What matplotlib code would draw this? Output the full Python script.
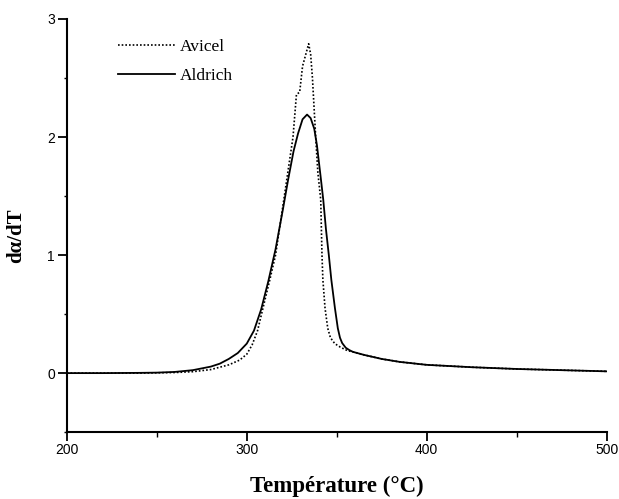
import numpy as np
import matplotlib.pyplot as plt
from matplotlib.ticker import MultipleLocator

# Aldrich cellulose (solid)
temp_aldrich = [200, 220, 240, 250, 260, 270, 280, 285, 290, 295, 300, 304, 308,
                312, 316, 320, 323, 326, 328.5, 331, 333.5, 335.5, 337.5, 339,
                341, 342.5, 344, 345.6, 347, 349, 350.6, 351.8, 353, 355, 357,
                359, 365, 375, 385, 400, 425, 450, 475, 500]
rate_aldrich = [0.0, 0.0, 0.002, 0.004, 0.01, 0.025, 0.055, 0.08, 0.12, 0.17, 0.25,
                0.36, 0.54, 0.78, 1.05, 1.38, 1.64, 1.88, 2.03, 2.15, 2.19, 2.16,
                2.07, 1.93, 1.67, 1.47, 1.22, 1.00, 0.79, 0.55, 0.38, 0.30, 0.255,
                0.215, 0.195, 0.18, 0.155, 0.12, 0.095, 0.07, 0.05, 0.035, 0.025,
                0.015]

# Avicel cellulose (dotted)
temp_avicel = [200, 240, 260, 270, 280, 290, 296, 300, 303, 306, 309, 312.8, 316,
               320.6, 323, 325.7, 327.6, 329.4, 331, 334.4, 335.5, 336.5, 338.3,
               339.5, 341.1, 341.8, 342.3, 343.5, 345, 346.5, 348.9, 352, 356, 359,
               365, 375, 385, 400, 425, 450, 475, 500]
rate_avicel = [0.0, 0.0, 0.005, 0.012, 0.03, 0.07, 0.11, 0.16, 0.24, 0.36, 0.55, 0.79,
               1.0, 1.47, 1.72, 2.0, 2.36, 2.38, 2.6, 2.79, 2.7, 2.5, 2.0, 1.7,
               1.47, 1.0, 0.79, 0.55, 0.38, 0.3, 0.25, 0.22, 0.19, 0.18, 0.155,
               0.12, 0.095, 0.07, 0.05, 0.035, 0.025, 0.015]

fig = plt.figure(figsize=(6.19, 4.99), dpi=100)
ax = fig.add_axes([0.108, 0.134, 0.872, 0.828])

ax.plot(temp_avicel, rate_avicel, color='black', linestyle=(0, (1, 1.2)),
        linewidth=1.2, label='Avicel')
ax.plot(temp_aldrich, rate_aldrich, color='black', linestyle='-',
        linewidth=1.3, label='Aldrich')

ax.set_xlim(200, 500)
ax.set_ylim(-0.5, 3)
ax.xaxis.set_major_locator(MultipleLocator(100))
ax.xaxis.set_minor_locator(MultipleLocator(50))
ax.yaxis.set_major_locator(MultipleLocator(1))
ax.yaxis.set_minor_locator(MultipleLocator(0.5))

ax.spines['top'].set_visible(False)
ax.spines['right'].set_visible(False)
for s in ['left', 'bottom']:
    ax.spines[s].set_linewidth(1.5)

ax.tick_params(which='major', length=6.5, width=1.3, direction='out',
               labelsize=10, pad=2)
ax.tick_params(axis='y', which='minor', length=2.5, width=1.0, direction='out')
ax.tick_params(axis='x', which='minor', length=3.5, width=1.0, direction='out')
ax.tick_params(axis='x', which='major', pad=1)
for lbl in ax.get_xticklabels() + ax.get_yticklabels():
    lbl.set_fontfamily('Liberation Sans')

ax.set_xlabel('Température (°C)', fontfamily='Liberation Serif',
              fontweight='bold', fontsize=16.5, labelpad=14)
ax.set_ylabel('dα/dT', fontfamily='Liberation Serif',
              fontweight='bold', fontsize=15)
ax.yaxis.set_label_coords(-0.075, 0.475)

leg = ax.legend(loc='upper left', bbox_to_anchor=(0.065, 0.99), frameon=False,
                prop={'family': 'Liberation Serif', 'size': 12.5},
                handlelength=3.3, handletextpad=0.3, labelspacing=0.75)

fig.savefig('out.png', dpi=100)
